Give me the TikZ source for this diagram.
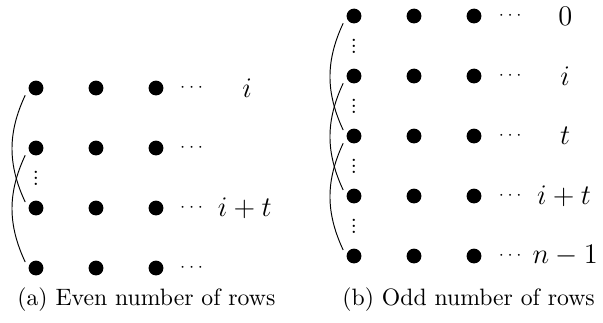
\documentclass[tikz,border=0pt]{standalone}
\usepackage{amsmath,amssymb}
\usetikzlibrary{positioning,calc}

% tight column of three dots between rows
\newcommand{\rowgap}{\vbox{\baselineskip2.5pt\lineskiplimit0pt\hbox{.}\hbox{.}\hbox{.}}}

\begin{document}
\begin{tikzpicture}[scale=0.89,
    dot/.style={circle,fill,inner sep=0pt,minimum size=0.22cm},
    hdots/.style={font=\scriptsize},
    gapdots/.style={font=\small,inner sep=0pt},
    rowlabel/.style={font=\fontsize{13pt}{15pt}\selectfont},
    twist/.style={bend right=25}]
  \useasboundingbox (0,0) rectangle (10.05,5.367);
  % ---- (a) even number of rows
  \begin{scope}
    \foreach \r/\y in {1/3.9,2/2.9,3/1.9,4/0.9} {
      \foreach \c/\x in {1/0.6,2/1.6,3/2.6}
        \node[dot] (a\r\c) at (\x,\y) {};
      \node[hdots] (ah\r) at (3.22,\y) {$\cdots$};
    }
    \node[gapdots] (av) at (0.6,2.4) {\rowgap};
    \node[rowlabel] (ali) at (4.12,3.9) {$i$};
    \node[rowlabel] (alit) at (4.08,1.9) {$i+t$};
    \draw ([shift={(-0.18,-0.12)}]a11.center) to[twist] ([shift={(-0.18,0.1)}]a31.center);
    \draw ([shift={(-0.18,-0.12)}]a21.center) to[twist] ([shift={(-0.18,0.1)}]a41.center);
    \node (acap) at (2.44,0.37) {(a) Even number of rows};
  \end{scope}
  % ---- (b) odd number of rows
  \begin{scope}
    \foreach \r/\y in {1/5.1,2/4.1,3/3.1,4/2.1,5/1.1} {
      \foreach \c/\x in {1/5.9,2/6.9,3/7.9}
        \node[dot] (b\r\c) at (\x,\y) {};
      \node[hdots] (bh\r) at (8.53,\y) {$\cdots$};
    }
    \foreach \r/\y in {1/4.6,2/3.6,3/2.6,4/1.6}
      \node[gapdots] (bv\r) at (5.9,\y) {\rowgap};
    \node[rowlabel] (bl0) at (9.42,5.1) {$0$};
    \node[rowlabel] (bli) at (9.42,4.1) {$i$};
    \node[rowlabel] (blt) at (9.42,3.1) {$t$};
    \node[rowlabel] (blit) at (9.4,2.1) {$i+t$};
    \node[rowlabel] (bln) at (9.42,1.1) {$n-1$};
    \draw ([shift={(-0.18,-0.12)}]b11.center) to[twist] ([shift={(-0.18,0.1)}]b31.center);
    \draw ([shift={(-0.18,-0.12)}]b21.center) to[twist] ([shift={(-0.18,0.1)}]b41.center);
    \draw ([shift={(-0.18,-0.12)}]b31.center) to[twist] ([shift={(-0.18,0.1)}]b51.center);
    \node (bcap) at (7.81,0.37) {(b) Odd number of rows};
  \end{scope}
\end{tikzpicture}
\end{document}
